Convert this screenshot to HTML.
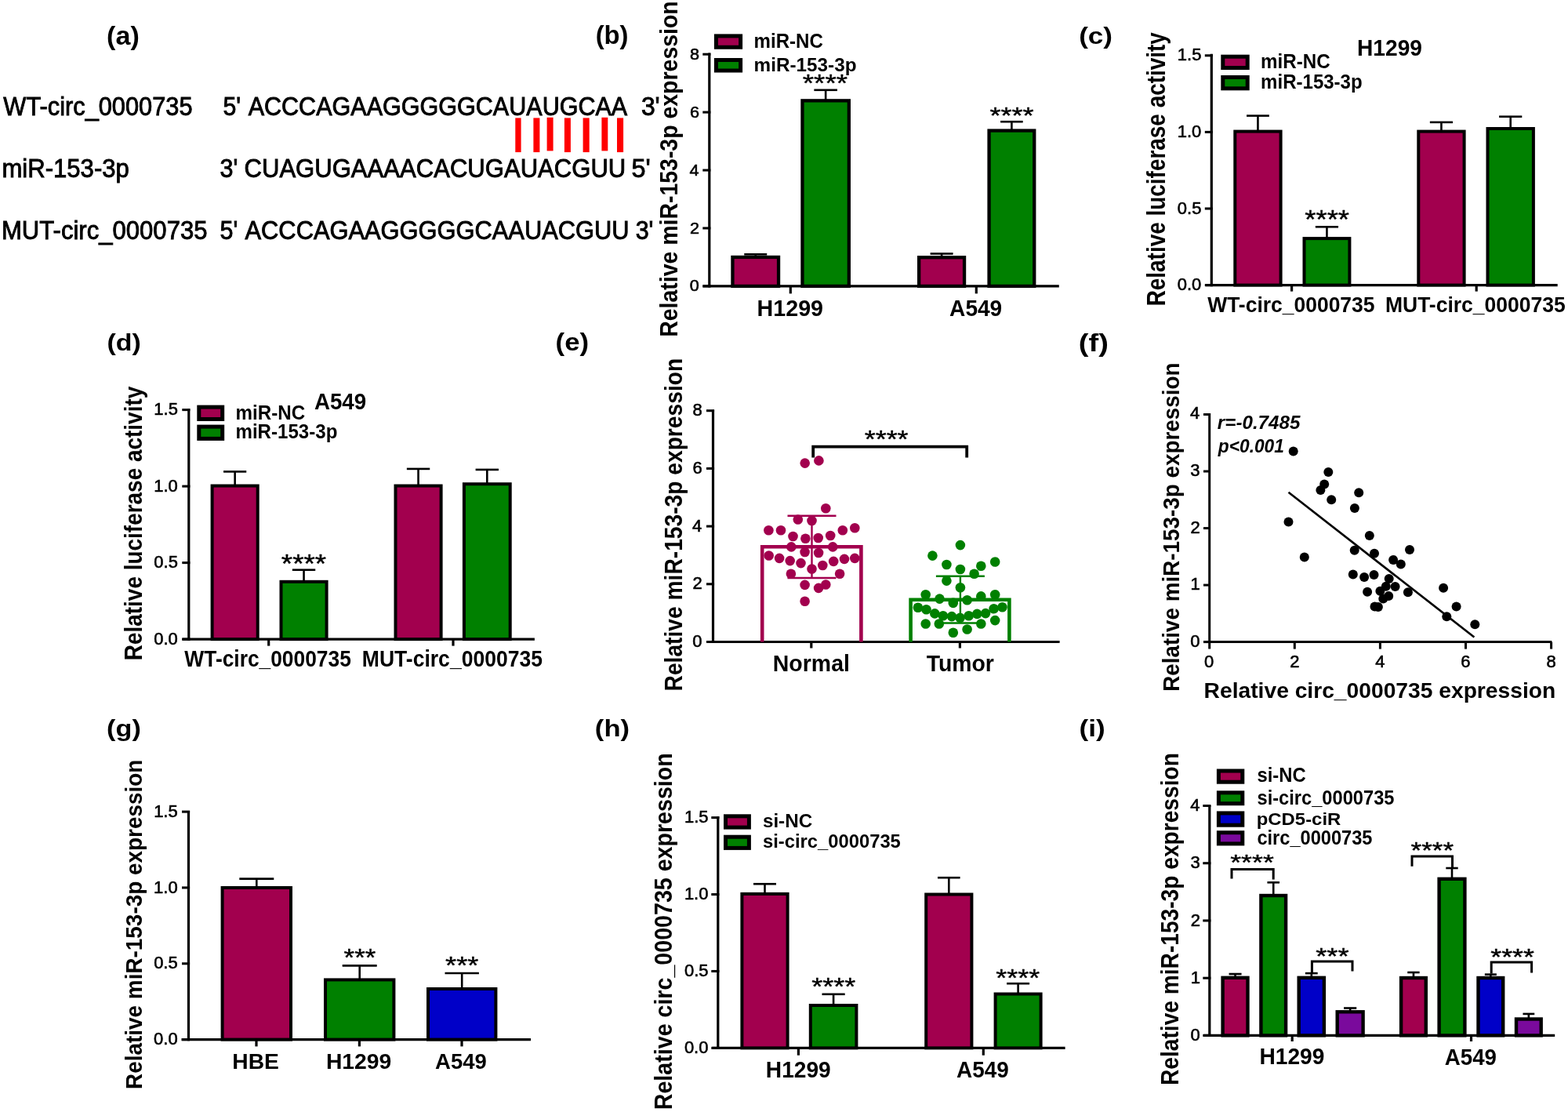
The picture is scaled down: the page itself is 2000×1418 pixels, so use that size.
<!DOCTYPE html>
<html><head><meta charset="utf-8"><title>Figure</title>
<style>html,body{margin:0;padding:0;background:#fff;}svg{display:block;}</style></head>
<body><svg width="2000" height="1418" viewBox="0 0 2000 1418" font-family="'Liberation Sans', Arial, sans-serif">
<rect width="2000" height="1418" fill="#fff"/>
<text x="136.10" y="56.54" font-size="32.62" font-weight="bold" fill="#000" textLength="41.70" lengthAdjust="spacingAndGlyphs">(a)</text>
<text x="759.67" y="56.32" font-size="33.15" font-weight="bold" fill="#000" textLength="41.87" lengthAdjust="spacingAndGlyphs">(b)</text>
<text x="1376.15" y="55.85" font-size="29.18" font-weight="bold" fill="#000" textLength="42.90" lengthAdjust="spacingAndGlyphs">(c)</text>
<text x="136.41" y="446.58" font-size="29.51" font-weight="bold" fill="#000" textLength="43.38" lengthAdjust="spacingAndGlyphs">(d)</text>
<text x="708.57" y="447.46" font-size="30.58" font-weight="bold" fill="#000" textLength="42.46" lengthAdjust="spacingAndGlyphs">(e)</text>
<text x="1375.80" y="447.77" font-size="31.01" font-weight="bold" fill="#000" textLength="38.10" lengthAdjust="spacingAndGlyphs">(f)</text>
<text x="136.10" y="938.62" font-size="30.26" font-weight="bold" fill="#000" textLength="43.71" lengthAdjust="spacingAndGlyphs">(g)</text>
<text x="758.88" y="938.62" font-size="30.26" font-weight="bold" fill="#000" textLength="44.14" lengthAdjust="spacingAndGlyphs">(h)</text>
<text x="1376.55" y="938.62" font-size="30.26" font-weight="bold" fill="#000" textLength="33.20" lengthAdjust="spacingAndGlyphs">(i)</text>
<text x="4.37" y="146.90" font-size="32.56" fill="#000" textLength="241.22" lengthAdjust="spacingAndGlyphs" stroke="#000" stroke-width="0.9">WT-circ_0000735</text>
<text x="284.39" y="146.90" font-size="32.56" fill="#000" textLength="22.64" lengthAdjust="spacingAndGlyphs" stroke="#000" stroke-width="0.9">5'</text>
<text x="316.64" y="146.90" font-size="32.56" fill="#000" textLength="483.62" lengthAdjust="spacingAndGlyphs" stroke="#000" stroke-width="0.9">ACCCAGAAGGGGGCAUAUGCAA</text>
<text x="817.89" y="146.90" font-size="32.56" fill="#000" textLength="23.82" lengthAdjust="spacingAndGlyphs" stroke="#000" stroke-width="0.9">3'</text>
<text x="2.44" y="225.90" font-size="32.99" fill="#000" textLength="162.37" lengthAdjust="spacingAndGlyphs" stroke="#000" stroke-width="0.9">miR-153-3p</text>
<text x="280.54" y="225.90" font-size="32.99" fill="#000" textLength="22.80" lengthAdjust="spacingAndGlyphs" stroke="#000" stroke-width="0.9">3'</text>
<text x="311.52" y="225.90" font-size="32.99" fill="#000" textLength="486.77" lengthAdjust="spacingAndGlyphs" stroke="#000" stroke-width="0.9">CUAGUGAAAACACUGAUACGUU</text>
<text x="805.40" y="225.90" font-size="32.99" fill="#000" textLength="24.23" lengthAdjust="spacingAndGlyphs" stroke="#000" stroke-width="0.9">5'</text>
<text x="1.97" y="304.60" font-size="32.85" fill="#000" textLength="262.53" lengthAdjust="spacingAndGlyphs" stroke="#000" stroke-width="0.9">MUT-circ_0000735</text>
<text x="280.48" y="304.60" font-size="32.85" fill="#000" textLength="22.75" lengthAdjust="spacingAndGlyphs" stroke="#000" stroke-width="0.9">5'</text>
<text x="312.54" y="304.60" font-size="32.85" fill="#000" textLength="490.04" lengthAdjust="spacingAndGlyphs" stroke="#000" stroke-width="0.9">ACCCAGAAGGGGGCAAUACGUU</text>
<text x="810.64" y="304.60" font-size="32.85" fill="#000" textLength="22.80" lengthAdjust="spacingAndGlyphs" stroke="#000" stroke-width="0.9">3'</text>
<rect x="657.3" y="150.4" width="7.30" height="43.70" fill="#ff0000"/>
<rect x="680.4" y="150.4" width="8.00" height="43.70" fill="#ff0000"/>
<rect x="697.6" y="149.8" width="8.00" height="42.60" fill="#ff0000"/>
<rect x="719.9" y="150.4" width="8.00" height="43.70" fill="#ff0000"/>
<rect x="743.6" y="150.4" width="8.10" height="43.70" fill="#ff0000"/>
<rect x="767.4" y="149.8" width="7.90" height="42.60" fill="#ff0000"/>
<rect x="787" y="150.4" width="8.10" height="43.70" fill="#ff0000"/>
<line x1="904.80" y1="67.40" x2="904.80" y2="366.50" stroke="#000" stroke-width="3.2" stroke-linecap="butt"/>
<line x1="896.30" y1="364.90" x2="906.40" y2="364.90" stroke="#000" stroke-width="3.04" stroke-linecap="butt"/>
<line x1="896.30" y1="290.97" x2="906.40" y2="290.97" stroke="#000" stroke-width="3.04" stroke-linecap="butt"/>
<line x1="896.30" y1="217.05" x2="906.40" y2="217.05" stroke="#000" stroke-width="3.04" stroke-linecap="butt"/>
<line x1="896.30" y1="143.12" x2="906.40" y2="143.12" stroke="#000" stroke-width="3.04" stroke-linecap="butt"/>
<line x1="896.30" y1="69.20" x2="906.40" y2="69.20" stroke="#000" stroke-width="3.04" stroke-linecap="butt"/>
<line x1="896.50" y1="364.90" x2="1350.80" y2="364.90" stroke="#000" stroke-width="3.2" stroke-linecap="butt"/>
<line x1="1008.30" y1="364.90" x2="1008.30" y2="374.40" stroke="#000" stroke-width="3.2" stroke-linecap="butt"/>
<line x1="1245.30" y1="364.90" x2="1245.30" y2="374.40" stroke="#000" stroke-width="3.2" stroke-linecap="butt"/>
<text x="879.82" y="371.43" font-size="21" textLength="12.03" lengthAdjust="spacingAndGlyphs" stroke="#000" stroke-width="0.6">0</text>
<text x="880.06" y="297.51" font-size="21" textLength="12.03" lengthAdjust="spacingAndGlyphs" stroke="#000" stroke-width="0.6">2</text>
<text x="879.60" y="223.58" font-size="21" textLength="12.03" lengthAdjust="spacingAndGlyphs" stroke="#000" stroke-width="0.6">4</text>
<text x="879.92" y="149.66" font-size="21" textLength="12.03" lengthAdjust="spacingAndGlyphs" stroke="#000" stroke-width="0.6">6</text>
<text x="879.91" y="75.73" font-size="21" textLength="12.03" lengthAdjust="spacingAndGlyphs" stroke="#000" stroke-width="0.6">8</text>
<line x1="963.75" y1="327.80" x2="963.75" y2="324.30" stroke="#000" stroke-width="2.6" stroke-linecap="butt"/>
<line x1="949.25" y1="324.30" x2="978.25" y2="324.30" stroke="#000" stroke-width="2.6" stroke-linecap="butt"/>
<rect x="934.45" y="327.95" width="58.60" height="36.95" fill="#a2004e" stroke="#000" stroke-width="4.3"/>
<line x1="1053.15" y1="128.20" x2="1053.15" y2="114.80" stroke="#000" stroke-width="2.6" stroke-linecap="butt"/>
<line x1="1038.35" y1="114.80" x2="1067.95" y2="114.80" stroke="#000" stroke-width="2.6" stroke-linecap="butt"/>
<rect x="1023.45" y="128.35" width="59.40" height="236.55" fill="#008000" stroke="#000" stroke-width="4.3"/>
<line x1="1201.10" y1="328.10" x2="1201.10" y2="323.50" stroke="#000" stroke-width="2.6" stroke-linecap="butt"/>
<line x1="1186.60" y1="323.50" x2="1215.60" y2="323.50" stroke="#000" stroke-width="2.6" stroke-linecap="butt"/>
<rect x="1172.15" y="328.25" width="57.90" height="36.65" fill="#a2004e" stroke="#000" stroke-width="4.3"/>
<line x1="1290.40" y1="166.40" x2="1290.40" y2="155.20" stroke="#000" stroke-width="2.6" stroke-linecap="butt"/>
<line x1="1276.10" y1="155.20" x2="1304.70" y2="155.20" stroke="#000" stroke-width="2.6" stroke-linecap="butt"/>
<rect x="1261.55" y="166.55" width="57.70" height="198.35" fill="#008000" stroke="#000" stroke-width="4.3"/>
<text x="1023.81" y="117.35" font-size="31.91" fill="#000" textLength="57.17" lengthAdjust="spacingAndGlyphs" stroke-linejoin="round" stroke="#000" stroke-width="0.4">****</text>
<text x="1262.52" y="156.68" font-size="28.72" fill="#000" textLength="56.14" lengthAdjust="spacingAndGlyphs" stroke-linejoin="round" stroke="#000" stroke-width="0.4">****</text>
<rect x="913.40" y="45.90" width="31.20" height="14.35" fill="#a2004e" stroke="#000" stroke-width="5"/>
<rect x="913.40" y="76.50" width="31.20" height="13.50" fill="#008000" stroke="#000" stroke-width="5"/>
<text x="961.61" y="60.60" font-size="24.85" font-weight="bold" fill="#000" textLength="88.24" lengthAdjust="spacingAndGlyphs">miR-NC</text>
<text x="961.60" y="90.70" font-size="24.71" font-weight="bold" fill="#000" textLength="130.90" lengthAdjust="spacingAndGlyphs">miR-153-3p</text>
<text x="965.58" y="403.40" font-size="30.09" font-weight="bold" fill="#000" textLength="84.48" lengthAdjust="spacingAndGlyphs">H1299</text>
<text x="1211.10" y="403.40" font-size="30.09" font-weight="bold" fill="#000" textLength="67.14" lengthAdjust="spacingAndGlyphs">A549</text>
<text transform="translate(864.20,427.90) rotate(-90)" x="-1.90" y="0" font-size="31.40" font-weight="bold" textLength="428.47" lengthAdjust="spacingAndGlyphs">Relative miR-153-3p expression</text>
<line x1="1545.30" y1="68.70" x2="1545.30" y2="365.20" stroke="#000" stroke-width="3.2" stroke-linecap="butt"/>
<line x1="1536.80" y1="363.60" x2="1546.90" y2="363.60" stroke="#000" stroke-width="3.04" stroke-linecap="butt"/>
<line x1="1536.80" y1="266.00" x2="1546.90" y2="266.00" stroke="#000" stroke-width="3.04" stroke-linecap="butt"/>
<line x1="1536.80" y1="168.40" x2="1546.90" y2="168.40" stroke="#000" stroke-width="3.04" stroke-linecap="butt"/>
<line x1="1536.80" y1="70.80" x2="1546.90" y2="70.80" stroke="#000" stroke-width="3.04" stroke-linecap="butt"/>
<line x1="1537.60" y1="363.60" x2="1986.70" y2="363.60" stroke="#000" stroke-width="3.2" stroke-linecap="butt"/>
<line x1="1647.60" y1="363.60" x2="1647.60" y2="371.60" stroke="#000" stroke-width="3.2" stroke-linecap="butt"/>
<line x1="1883.20" y1="363.60" x2="1883.20" y2="371.60" stroke="#000" stroke-width="3.2" stroke-linecap="butt"/>
<text x="1501.78" y="370.19" font-size="22" textLength="30.58" lengthAdjust="spacingAndGlyphs" stroke="#000" stroke-width="0.6">0.0</text>
<text x="1501.84" y="272.59" font-size="22" textLength="30.58" lengthAdjust="spacingAndGlyphs" stroke="#000" stroke-width="0.6">0.5</text>
<text x="1501.78" y="174.99" font-size="22" textLength="30.58" lengthAdjust="spacingAndGlyphs" stroke="#000" stroke-width="0.6">1.0</text>
<text x="1501.84" y="77.39" font-size="22" textLength="30.58" lengthAdjust="spacingAndGlyphs" stroke="#000" stroke-width="0.6">1.5</text>
<line x1="1604.45" y1="167.60" x2="1604.45" y2="147.60" stroke="#000" stroke-width="2.6" stroke-linecap="butt"/>
<line x1="1590.05" y1="147.60" x2="1618.85" y2="147.60" stroke="#000" stroke-width="2.6" stroke-linecap="butt"/>
<rect x="1575.30" y="167.60" width="58.30" height="196.00" fill="#a2004e" stroke="#000" stroke-width="4.0"/>
<line x1="1692.45" y1="304.10" x2="1692.45" y2="289.30" stroke="#000" stroke-width="2.6" stroke-linecap="butt"/>
<line x1="1677.85" y1="289.30" x2="1707.05" y2="289.30" stroke="#000" stroke-width="2.6" stroke-linecap="butt"/>
<rect x="1663.50" y="304.10" width="57.90" height="59.50" fill="#008000" stroke="#000" stroke-width="4.0"/>
<line x1="1838.45" y1="167.60" x2="1838.45" y2="155.90" stroke="#000" stroke-width="2.6" stroke-linecap="butt"/>
<line x1="1823.85" y1="155.90" x2="1853.05" y2="155.90" stroke="#000" stroke-width="2.6" stroke-linecap="butt"/>
<rect x="1809.30" y="167.60" width="58.30" height="196.00" fill="#a2004e" stroke="#000" stroke-width="4.0"/>
<line x1="1926.70" y1="164.00" x2="1926.70" y2="148.70" stroke="#000" stroke-width="2.6" stroke-linecap="butt"/>
<line x1="1912.10" y1="148.70" x2="1941.30" y2="148.70" stroke="#000" stroke-width="2.6" stroke-linecap="butt"/>
<rect x="1897.50" y="164.00" width="58.40" height="199.60" fill="#008000" stroke="#000" stroke-width="4.0"/>
<text x="1664.21" y="291.21" font-size="34.14" fill="#000" textLength="56.86" lengthAdjust="spacingAndGlyphs" stroke-linejoin="round" stroke="#000" stroke-width="0.4">****</text>
<rect x="1559.80" y="72.20" width="31.40" height="14.30" fill="#a2004e" stroke="#000" stroke-width="5"/>
<rect x="1559.80" y="98.50" width="31.40" height="14.30" fill="#008000" stroke="#000" stroke-width="5"/>
<text x="1608.11" y="86.60" font-size="25.87" font-weight="bold" fill="#000" textLength="88.66" lengthAdjust="spacingAndGlyphs">miR-NC</text>
<text x="1608.12" y="113.20" font-size="25.87" font-weight="bold" fill="#000" textLength="129.57" lengthAdjust="spacingAndGlyphs">miR-153-3p</text>
<text x="1731.02" y="70.50" font-size="28.92" font-weight="bold" fill="#000" textLength="83.03" lengthAdjust="spacingAndGlyphs">H1299</text>
<text x="1540.17" y="398.20" font-size="28.34" font-weight="bold" fill="#000" textLength="213.36" lengthAdjust="spacingAndGlyphs">WT-circ_0000735</text>
<text x="1766.94" y="398.20" font-size="28.34" font-weight="bold" fill="#000" textLength="229.79" lengthAdjust="spacingAndGlyphs">MUT-circ_0000735</text>
<text transform="translate(1486.10,388.50) rotate(-90)" x="-1.87" y="0" font-size="32.30" font-weight="bold" textLength="349.22" lengthAdjust="spacingAndGlyphs">Relative luciferase activity</text>
<line x1="240.80" y1="521.10" x2="240.80" y2="816.70" stroke="#000" stroke-width="3.2" stroke-linecap="butt"/>
<line x1="232.30" y1="815.10" x2="242.40" y2="815.10" stroke="#000" stroke-width="3.04" stroke-linecap="butt"/>
<line x1="232.30" y1="717.60" x2="242.40" y2="717.60" stroke="#000" stroke-width="3.04" stroke-linecap="butt"/>
<line x1="232.30" y1="620.10" x2="242.40" y2="620.10" stroke="#000" stroke-width="3.04" stroke-linecap="butt"/>
<line x1="232.30" y1="522.60" x2="242.40" y2="522.60" stroke="#000" stroke-width="3.04" stroke-linecap="butt"/>
<line x1="232.40" y1="815.10" x2="681.90" y2="815.10" stroke="#000" stroke-width="3.2" stroke-linecap="butt"/>
<line x1="342.70" y1="815.10" x2="342.70" y2="823.60" stroke="#000" stroke-width="3.2" stroke-linecap="butt"/>
<line x1="578.00" y1="815.10" x2="578.00" y2="823.60" stroke="#000" stroke-width="3.2" stroke-linecap="butt"/>
<text x="196.28" y="821.69" font-size="22" textLength="30.58" lengthAdjust="spacingAndGlyphs" stroke="#000" stroke-width="0.6">0.0</text>
<text x="196.34" y="724.19" font-size="22" textLength="30.58" lengthAdjust="spacingAndGlyphs" stroke="#000" stroke-width="0.6">0.5</text>
<text x="196.28" y="626.69" font-size="22" textLength="30.58" lengthAdjust="spacingAndGlyphs" stroke="#000" stroke-width="0.6">1.0</text>
<text x="196.34" y="529.19" font-size="22" textLength="30.58" lengthAdjust="spacingAndGlyphs" stroke="#000" stroke-width="0.6">1.5</text>
<line x1="299.65" y1="619.50" x2="299.65" y2="601.40" stroke="#000" stroke-width="2.6" stroke-linecap="butt"/>
<line x1="285.05" y1="601.40" x2="314.25" y2="601.40" stroke="#000" stroke-width="2.6" stroke-linecap="butt"/>
<rect x="270.60" y="619.50" width="58.10" height="195.60" fill="#a2004e" stroke="#000" stroke-width="4.0"/>
<line x1="387.55" y1="741.80" x2="387.55" y2="726.70" stroke="#000" stroke-width="2.6" stroke-linecap="butt"/>
<line x1="372.85" y1="726.70" x2="402.25" y2="726.70" stroke="#000" stroke-width="2.6" stroke-linecap="butt"/>
<rect x="358.50" y="741.80" width="58.10" height="73.30" fill="#008000" stroke="#000" stroke-width="4.0"/>
<line x1="533.55" y1="619.50" x2="533.55" y2="597.90" stroke="#000" stroke-width="2.6" stroke-linecap="butt"/>
<line x1="518.85" y1="597.90" x2="548.25" y2="597.90" stroke="#000" stroke-width="2.6" stroke-linecap="butt"/>
<rect x="504.50" y="619.50" width="58.10" height="195.60" fill="#a2004e" stroke="#000" stroke-width="4.0"/>
<line x1="621.30" y1="617.20" x2="621.30" y2="598.90" stroke="#000" stroke-width="2.6" stroke-linecap="butt"/>
<line x1="606.60" y1="598.90" x2="636.00" y2="598.90" stroke="#000" stroke-width="2.6" stroke-linecap="butt"/>
<rect x="591.90" y="617.20" width="58.80" height="197.90" fill="#008000" stroke="#000" stroke-width="4.0"/>
<text x="358.81" y="729.60" font-size="33.82" fill="#000" textLength="57.37" lengthAdjust="spacingAndGlyphs" stroke-linejoin="round" stroke="#000" stroke-width="0.4">****</text>
<rect x="253.80" y="519.10" width="29.90" height="15.40" fill="#a2004e" stroke="#000" stroke-width="5"/>
<rect x="253.80" y="544.10" width="29.90" height="15.30" fill="#008000" stroke="#000" stroke-width="5"/>
<text x="300.51" y="534.50" font-size="25.58" font-weight="bold" fill="#000" textLength="88.66" lengthAdjust="spacingAndGlyphs">miR-NC</text>
<text x="300.51" y="559.20" font-size="25.00" font-weight="bold" fill="#000" textLength="129.88" lengthAdjust="spacingAndGlyphs">miR-153-3p</text>
<text x="400.91" y="521.80" font-size="29.65" font-weight="bold" fill="#000" textLength="66.32" lengthAdjust="spacingAndGlyphs">A549</text>
<text x="235.37" y="850.30" font-size="28.78" font-weight="bold" fill="#000" textLength="212.45" lengthAdjust="spacingAndGlyphs">WT-circ_0000735</text>
<text x="461.84" y="850.30" font-size="28.78" font-weight="bold" fill="#000" textLength="230.10" lengthAdjust="spacingAndGlyphs">MUT-circ_0000735</text>
<text transform="translate(180.70,840.40) rotate(-90)" x="-1.87" y="0" font-size="31.80" font-weight="bold" textLength="349.52" lengthAdjust="spacingAndGlyphs">Relative luciferase activity</text>
<line x1="909.50" y1="522.80" x2="909.50" y2="820.10" stroke="#000" stroke-width="3.2" stroke-linecap="butt"/>
<line x1="901.00" y1="818.50" x2="911.10" y2="818.50" stroke="#000" stroke-width="3.04" stroke-linecap="butt"/>
<line x1="901.00" y1="744.80" x2="911.10" y2="744.80" stroke="#000" stroke-width="3.04" stroke-linecap="butt"/>
<line x1="901.00" y1="671.10" x2="911.10" y2="671.10" stroke="#000" stroke-width="3.04" stroke-linecap="butt"/>
<line x1="901.00" y1="597.40" x2="911.10" y2="597.40" stroke="#000" stroke-width="3.04" stroke-linecap="butt"/>
<line x1="901.00" y1="523.70" x2="911.10" y2="523.70" stroke="#000" stroke-width="3.04" stroke-linecap="butt"/>
<line x1="901.00" y1="818.50" x2="1351.60" y2="818.50" stroke="#000" stroke-width="3.2" stroke-linecap="butt"/>
<line x1="1034.80" y1="818.50" x2="1034.80" y2="826.50" stroke="#000" stroke-width="3.2" stroke-linecap="butt"/>
<line x1="1224.40" y1="818.50" x2="1224.40" y2="826.50" stroke="#000" stroke-width="3.2" stroke-linecap="butt"/>
<text x="883.32" y="825.09" font-size="22" textLength="12.24" lengthAdjust="spacingAndGlyphs" stroke="#000" stroke-width="0.6">0</text>
<text x="883.57" y="751.39" font-size="22" textLength="12.24" lengthAdjust="spacingAndGlyphs" stroke="#000" stroke-width="0.6">2</text>
<text x="883.11" y="677.69" font-size="22" textLength="12.24" lengthAdjust="spacingAndGlyphs" stroke="#000" stroke-width="0.6">4</text>
<text x="883.43" y="603.99" font-size="22" textLength="12.24" lengthAdjust="spacingAndGlyphs" stroke="#000" stroke-width="0.6">6</text>
<text x="883.42" y="530.29" font-size="22" textLength="12.24" lengthAdjust="spacingAndGlyphs" stroke="#000" stroke-width="0.6">8</text>
<polyline points="972.2,818.5 972.2,697.2 1098.4,697.2 1098.4,818.5" fill="none" stroke="#a2004e" stroke-width="4.6" stroke-linejoin="miter"/>
<polyline points="1161.6,818.5 1161.6,764.8 1287.4,764.8 1287.4,818.5" fill="none" stroke="#008000" stroke-width="4.6" stroke-linejoin="miter"/>
<circle cx="1026.7" cy="590.6" r="6.3" fill="#a2004e"/>
<circle cx="1044.4" cy="587.4" r="6.3" fill="#a2004e"/>
<circle cx="1053.3" cy="648.2" r="6.3" fill="#a2004e"/>
<circle cx="1017.8" cy="662.5" r="6.3" fill="#a2004e"/>
<circle cx="1035.5" cy="664.0" r="6.3" fill="#a2004e"/>
<circle cx="980.4" cy="676.3" r="6.3" fill="#a2004e"/>
<circle cx="996.0" cy="676.3" r="6.3" fill="#a2004e"/>
<circle cx="1011.5" cy="684.0" r="6.3" fill="#a2004e"/>
<circle cx="1027.4" cy="686.7" r="6.3" fill="#a2004e"/>
<circle cx="1043.7" cy="686.0" r="6.3" fill="#a2004e"/>
<circle cx="1059.2" cy="683.0" r="6.3" fill="#a2004e"/>
<circle cx="1074.8" cy="676.3" r="6.3" fill="#a2004e"/>
<circle cx="1090.3" cy="673.2" r="6.3" fill="#a2004e"/>
<circle cx="1009.3" cy="697.4" r="6.3" fill="#a2004e"/>
<circle cx="1062.2" cy="697.4" r="6.3" fill="#a2004e"/>
<circle cx="980.7" cy="708.5" r="6.3" fill="#a2004e"/>
<circle cx="994.1" cy="711.9" r="6.3" fill="#a2004e"/>
<circle cx="1026.6" cy="704.0" r="6.3" fill="#a2004e"/>
<circle cx="1044.1" cy="705.0" r="6.3" fill="#a2004e"/>
<circle cx="1007.7" cy="715.1" r="6.3" fill="#a2004e"/>
<circle cx="1021.5" cy="718.1" r="6.3" fill="#a2004e"/>
<circle cx="1049.3" cy="721.0" r="6.3" fill="#a2004e"/>
<circle cx="1063.2" cy="715.9" r="6.3" fill="#a2004e"/>
<circle cx="1077.0" cy="712.9" r="6.3" fill="#a2004e"/>
<circle cx="1090.3" cy="711.9" r="6.3" fill="#a2004e"/>
<circle cx="1035.5" cy="725.5" r="6.3" fill="#a2004e"/>
<circle cx="1008.9" cy="731.7" r="6.3" fill="#a2004e"/>
<circle cx="1071.1" cy="731.7" r="6.3" fill="#a2004e"/>
<circle cx="1026.6" cy="745.9" r="6.3" fill="#a2004e"/>
<circle cx="1053.3" cy="745.5" r="6.3" fill="#a2004e"/>
<circle cx="1044.1" cy="749.9" r="6.3" fill="#a2004e"/>
<circle cx="1026.6" cy="766.7" r="6.3" fill="#a2004e"/>
<line x1="1035.50" y1="657.70" x2="1035.50" y2="737.00" stroke="#a2004e" stroke-width="2.4" stroke-linecap="butt"/>
<line x1="1004.50" y1="657.70" x2="1066.50" y2="657.70" stroke="#a2004e" stroke-width="2.4" stroke-linecap="butt"/>
<line x1="1004.50" y1="737.00" x2="1066.50" y2="737.00" stroke="#a2004e" stroke-width="2.4" stroke-linecap="butt"/>
<circle cx="1224.9" cy="695.1" r="6.3" fill="#008000"/>
<circle cx="1189.4" cy="708.6" r="6.3" fill="#008000"/>
<circle cx="1207.4" cy="720.0" r="6.3" fill="#008000"/>
<circle cx="1224.9" cy="726.0" r="6.3" fill="#008000"/>
<circle cx="1251.3" cy="721.8" r="6.3" fill="#008000"/>
<circle cx="1269.2" cy="716.5" r="6.3" fill="#008000"/>
<circle cx="1242.6" cy="731.8" r="6.3" fill="#008000"/>
<circle cx="1207.4" cy="740.6" r="6.3" fill="#008000"/>
<circle cx="1224.9" cy="749.3" r="6.3" fill="#008000"/>
<circle cx="1180.7" cy="758.3" r="6.3" fill="#008000"/>
<circle cx="1198.5" cy="763.6" r="6.3" fill="#008000"/>
<circle cx="1215.8" cy="768.9" r="6.3" fill="#008000"/>
<circle cx="1233.6" cy="765.2" r="6.3" fill="#008000"/>
<circle cx="1251.3" cy="760.4" r="6.3" fill="#008000"/>
<circle cx="1269.2" cy="758.3" r="6.3" fill="#008000"/>
<circle cx="1170.9" cy="774.7" r="6.3" fill="#008000"/>
<circle cx="1181.5" cy="777.3" r="6.3" fill="#008000"/>
<circle cx="1192.3" cy="782.4" r="6.3" fill="#008000"/>
<circle cx="1202.9" cy="785.3" r="6.3" fill="#008000"/>
<circle cx="1214.0" cy="786.1" r="6.3" fill="#008000"/>
<circle cx="1224.6" cy="787.9" r="6.3" fill="#008000"/>
<circle cx="1235.7" cy="785.3" r="6.3" fill="#008000"/>
<circle cx="1246.3" cy="782.9" r="6.3" fill="#008000"/>
<circle cx="1257.1" cy="782.1" r="6.3" fill="#008000"/>
<circle cx="1267.6" cy="776.3" r="6.3" fill="#008000"/>
<circle cx="1278.5" cy="774.2" r="6.3" fill="#008000"/>
<circle cx="1180.7" cy="795.5" r="6.3" fill="#008000"/>
<circle cx="1197.8" cy="795.5" r="6.3" fill="#008000"/>
<circle cx="1251.3" cy="795.5" r="6.3" fill="#008000"/>
<circle cx="1269.2" cy="791.1" r="6.3" fill="#008000"/>
<circle cx="1215.8" cy="806.7" r="6.3" fill="#008000"/>
<circle cx="1233.6" cy="802.5" r="6.3" fill="#008000"/>
<line x1="1224.90" y1="734.80" x2="1224.90" y2="794.50" stroke="#008000" stroke-width="2.4" stroke-linecap="butt"/>
<line x1="1193.90" y1="734.80" x2="1255.90" y2="734.80" stroke="#008000" stroke-width="2.4" stroke-linecap="butt"/>
<line x1="1193.90" y1="794.50" x2="1255.90" y2="794.50" stroke="#008000" stroke-width="2.4" stroke-linecap="butt"/>
<polyline points="1037.20,583.50 1037.20,569.60 1233.20,569.60 1233.20,583.50" fill="none" stroke="#000" stroke-width="3.8" stroke-linejoin="miter"/>
<text x="1102.82" y="570.53" font-size="30.95" fill="#000" textLength="55.74" lengthAdjust="spacingAndGlyphs" stroke-linejoin="round" stroke="#000" stroke-width="0.4">****</text>
<text x="985.79" y="855.70" font-size="30.09" font-weight="bold" fill="#000" textLength="98.12" lengthAdjust="spacingAndGlyphs">Normal</text>
<text x="1181.79" y="855.70" font-size="30.09" font-weight="bold" fill="#000" textLength="86.13" lengthAdjust="spacingAndGlyphs">Tumor</text>
<text transform="translate(869.50,879.60) rotate(-90)" x="-1.89" y="0" font-size="32.00" font-weight="bold" textLength="424.63" lengthAdjust="spacingAndGlyphs">Relative miR-153-3p expression</text>
<line x1="1542.70" y1="527.00" x2="1542.70" y2="827.60" stroke="#000" stroke-width="3" stroke-linecap="butt"/>
<line x1="1535.00" y1="818.60" x2="1542.70" y2="818.60" stroke="#000" stroke-width="3" stroke-linecap="butt"/>
<line x1="1535.00" y1="746.08" x2="1542.70" y2="746.08" stroke="#000" stroke-width="3" stroke-linecap="butt"/>
<line x1="1535.00" y1="673.55" x2="1542.70" y2="673.55" stroke="#000" stroke-width="3" stroke-linecap="butt"/>
<line x1="1535.00" y1="601.02" x2="1542.70" y2="601.02" stroke="#000" stroke-width="3" stroke-linecap="butt"/>
<line x1="1535.00" y1="528.50" x2="1542.70" y2="528.50" stroke="#000" stroke-width="3" stroke-linecap="butt"/>
<line x1="1535.10" y1="818.60" x2="1979.30" y2="818.60" stroke="#000" stroke-width="3" stroke-linecap="butt"/>
<line x1="1651.30" y1="818.60" x2="1651.30" y2="827.60" stroke="#000" stroke-width="3" stroke-linecap="butt"/>
<line x1="1760.40" y1="818.60" x2="1760.40" y2="827.60" stroke="#000" stroke-width="3" stroke-linecap="butt"/>
<line x1="1869.50" y1="818.60" x2="1869.50" y2="827.60" stroke="#000" stroke-width="3" stroke-linecap="butt"/>
<line x1="1978.60" y1="818.60" x2="1978.60" y2="827.60" stroke="#000" stroke-width="3" stroke-linecap="butt"/>
<text x="1518.22" y="824.59" font-size="22" textLength="12.24" lengthAdjust="spacingAndGlyphs" stroke="#000" stroke-width="0.6">0</text>
<text x="1518.44" y="752.06" font-size="22" textLength="12.24" lengthAdjust="spacingAndGlyphs" stroke="#000" stroke-width="0.6">1</text>
<text x="1518.47" y="679.54" font-size="22" textLength="12.24" lengthAdjust="spacingAndGlyphs" stroke="#000" stroke-width="0.6">2</text>
<text x="1518.33" y="607.01" font-size="22" textLength="12.24" lengthAdjust="spacingAndGlyphs" stroke="#000" stroke-width="0.6">3</text>
<text x="1518.01" y="534.49" font-size="22" textLength="12.24" lengthAdjust="spacingAndGlyphs" stroke="#000" stroke-width="0.6">4</text>
<text x="1536.08" y="851.30" font-size="22" textLength="12.24" lengthAdjust="spacingAndGlyphs" stroke="#000" stroke-width="0.6">0</text>
<text x="1645.18" y="851.30" font-size="22" textLength="12.24" lengthAdjust="spacingAndGlyphs" stroke="#000" stroke-width="0.6">2</text>
<text x="1754.35" y="851.30" font-size="22" textLength="12.24" lengthAdjust="spacingAndGlyphs" stroke="#000" stroke-width="0.6">4</text>
<text x="1863.31" y="851.30" font-size="22" textLength="12.24" lengthAdjust="spacingAndGlyphs" stroke="#000" stroke-width="0.6">6</text>
<text x="1972.48" y="851.30" font-size="22" textLength="12.24" lengthAdjust="spacingAndGlyphs" stroke="#000" stroke-width="0.6">8</text>
<text x="1552.89" y="547.00" font-size="23.50" font-weight="bold" font-style="italic" fill="#000" textLength="105.53" lengthAdjust="spacingAndGlyphs">r=-0.7485</text>
<text x="1553.80" y="577.00" font-size="23.50" font-weight="bold" font-style="italic" fill="#000" textLength="84.12" lengthAdjust="spacingAndGlyphs">p&lt;0.001</text>
<line x1="1643.50" y1="627.70" x2="1880.40" y2="812.50" stroke="#000" stroke-width="2.7" stroke-linecap="butt"/>
<circle cx="1649.7" cy="575.6" r="6.0" fill="#000"/>
<circle cx="1694.3" cy="602.1" r="6.0" fill="#000"/>
<circle cx="1689.2" cy="617.5" r="6.0" fill="#000"/>
<circle cx="1684.4" cy="624.9" r="6.0" fill="#000"/>
<circle cx="1698.2" cy="637.3" r="6.0" fill="#000"/>
<circle cx="1733.2" cy="628.2" r="6.0" fill="#000"/>
<circle cx="1727.9" cy="648.0" r="6.0" fill="#000"/>
<circle cx="1643.5" cy="665.5" r="6.0" fill="#000"/>
<circle cx="1746.8" cy="683.0" r="6.0" fill="#000"/>
<circle cx="1727.7" cy="701.8" r="6.0" fill="#000"/>
<circle cx="1753.0" cy="705.7" r="6.0" fill="#000"/>
<circle cx="1663.8" cy="710.6" r="6.0" fill="#000"/>
<circle cx="1798.0" cy="701.0" r="6.0" fill="#000"/>
<circle cx="1777.1" cy="714.0" r="6.0" fill="#000"/>
<circle cx="1786.8" cy="719.5" r="6.0" fill="#000"/>
<circle cx="1725.8" cy="732.5" r="6.0" fill="#000"/>
<circle cx="1740.1" cy="735.9" r="6.0" fill="#000"/>
<circle cx="1752.5" cy="733.0" r="6.0" fill="#000"/>
<circle cx="1771.7" cy="737.9" r="6.0" fill="#000"/>
<circle cx="1767.8" cy="747.8" r="6.0" fill="#000"/>
<circle cx="1779.6" cy="748.1" r="6.0" fill="#000"/>
<circle cx="1744.1" cy="754.7" r="6.0" fill="#000"/>
<circle cx="1760.4" cy="753.7" r="6.0" fill="#000"/>
<circle cx="1795.9" cy="755.2" r="6.0" fill="#000"/>
<circle cx="1771.2" cy="760.1" r="6.0" fill="#000"/>
<circle cx="1764.3" cy="763.6" r="6.0" fill="#000"/>
<circle cx="1753.5" cy="773.4" r="6.0" fill="#000"/>
<circle cx="1757.9" cy="773.9" r="6.0" fill="#000"/>
<circle cx="1841.1" cy="749.7" r="6.0" fill="#000"/>
<circle cx="1857.6" cy="773.4" r="6.0" fill="#000"/>
<circle cx="1845.3" cy="786.3" r="6.0" fill="#000"/>
<circle cx="1881.3" cy="796.2" r="6.0" fill="#000"/>
<text x="1535.61" y="890.00" font-size="28.20" font-weight="bold" fill="#000" textLength="448.64" lengthAdjust="spacingAndGlyphs">Relative circ_0000735 expression</text>
<text transform="translate(1504.20,880.00) rotate(-90)" x="-1.86" y="0" font-size="29.80" font-weight="bold" textLength="419.29" lengthAdjust="spacingAndGlyphs">Relative miR-153-3p expression</text>
<line x1="240.50" y1="1033.90" x2="240.50" y2="1327.20" stroke="#000" stroke-width="3.2" stroke-linecap="butt"/>
<line x1="232.00" y1="1325.60" x2="242.10" y2="1325.60" stroke="#000" stroke-width="3.04" stroke-linecap="butt"/>
<line x1="232.00" y1="1228.77" x2="242.10" y2="1228.77" stroke="#000" stroke-width="3.04" stroke-linecap="butt"/>
<line x1="232.00" y1="1131.93" x2="242.10" y2="1131.93" stroke="#000" stroke-width="3.04" stroke-linecap="butt"/>
<line x1="232.00" y1="1035.10" x2="242.10" y2="1035.10" stroke="#000" stroke-width="3.04" stroke-linecap="butt"/>
<line x1="231.50" y1="1325.60" x2="677.00" y2="1325.60" stroke="#000" stroke-width="3.2" stroke-linecap="butt"/>
<line x1="327.00" y1="1325.60" x2="327.00" y2="1334.40" stroke="#000" stroke-width="3.2" stroke-linecap="butt"/>
<line x1="458.40" y1="1325.60" x2="458.40" y2="1334.40" stroke="#000" stroke-width="3.2" stroke-linecap="butt"/>
<line x1="589.00" y1="1325.60" x2="589.00" y2="1334.40" stroke="#000" stroke-width="3.2" stroke-linecap="butt"/>
<text x="196.08" y="1332.19" font-size="22" textLength="30.58" lengthAdjust="spacingAndGlyphs" stroke="#000" stroke-width="0.6">0.0</text>
<text x="196.14" y="1235.35" font-size="22" textLength="30.58" lengthAdjust="spacingAndGlyphs" stroke="#000" stroke-width="0.6">0.5</text>
<text x="196.08" y="1138.52" font-size="22" textLength="30.58" lengthAdjust="spacingAndGlyphs" stroke="#000" stroke-width="0.6">1.0</text>
<text x="196.14" y="1041.69" font-size="22" textLength="30.58" lengthAdjust="spacingAndGlyphs" stroke="#000" stroke-width="0.6">1.5</text>
<line x1="327.30" y1="1132.00" x2="327.30" y2="1120.60" stroke="#000" stroke-width="2.6" stroke-linecap="butt"/>
<line x1="305.30" y1="1120.60" x2="349.30" y2="1120.60" stroke="#000" stroke-width="2.6" stroke-linecap="butt"/>
<rect x="283.60" y="1132.00" width="87.40" height="193.60" fill="#a2004e" stroke="#000" stroke-width="4.0"/>
<line x1="458.70" y1="1249.40" x2="458.70" y2="1231.40" stroke="#000" stroke-width="2.6" stroke-linecap="butt"/>
<line x1="436.70" y1="1231.40" x2="480.70" y2="1231.40" stroke="#000" stroke-width="2.6" stroke-linecap="butt"/>
<rect x="415.00" y="1249.40" width="87.40" height="76.20" fill="#008000" stroke="#000" stroke-width="4.0"/>
<line x1="589.20" y1="1261.00" x2="589.20" y2="1241.00" stroke="#000" stroke-width="2.6" stroke-linecap="butt"/>
<line x1="567.50" y1="1241.00" x2="610.90" y2="1241.00" stroke="#000" stroke-width="2.6" stroke-linecap="butt"/>
<rect x="546.00" y="1261.00" width="86.40" height="64.60" fill="#0000c8" stroke="#000" stroke-width="4.0"/>
<text x="438.64" y="1231.94" font-size="31.27" fill="#000" textLength="40.71" lengthAdjust="spacingAndGlyphs" stroke-linejoin="round" stroke="#000" stroke-width="0.4">***</text>
<text x="568.02" y="1242.34" font-size="31.27" fill="#000" textLength="42.35" lengthAdjust="spacingAndGlyphs" stroke-linejoin="round" stroke="#000" stroke-width="0.4">***</text>
<text x="296.31" y="1362.80" font-size="27.76" font-weight="bold" fill="#000" textLength="59.59" lengthAdjust="spacingAndGlyphs">HBE</text>
<text x="415.91" y="1362.80" font-size="27.76" font-weight="bold" fill="#000" textLength="83.34" lengthAdjust="spacingAndGlyphs">H1299</text>
<text x="555.12" y="1362.80" font-size="27.76" font-weight="bold" fill="#000" textLength="65.70" lengthAdjust="spacingAndGlyphs">A549</text>
<text transform="translate(181.10,1387.10) rotate(-90)" x="-1.87" y="0" font-size="30.00" font-weight="bold" textLength="420.30" lengthAdjust="spacingAndGlyphs">Relative miR-153-3p expression</text>
<line x1="915.80" y1="1040.90" x2="915.80" y2="1338.00" stroke="#000" stroke-width="3.2" stroke-linecap="butt"/>
<line x1="907.30" y1="1336.40" x2="917.40" y2="1336.40" stroke="#000" stroke-width="3.04" stroke-linecap="butt"/>
<line x1="907.30" y1="1238.47" x2="917.40" y2="1238.47" stroke="#000" stroke-width="3.04" stroke-linecap="butt"/>
<line x1="907.30" y1="1140.53" x2="917.40" y2="1140.53" stroke="#000" stroke-width="3.04" stroke-linecap="butt"/>
<line x1="907.30" y1="1042.60" x2="917.40" y2="1042.60" stroke="#000" stroke-width="3.04" stroke-linecap="butt"/>
<line x1="908.20" y1="1336.40" x2="1358.60" y2="1336.40" stroke="#000" stroke-width="3.2" stroke-linecap="butt"/>
<line x1="1018.40" y1="1336.40" x2="1018.40" y2="1345.70" stroke="#000" stroke-width="3.2" stroke-linecap="butt"/>
<line x1="1254.30" y1="1336.40" x2="1254.30" y2="1345.70" stroke="#000" stroke-width="3.2" stroke-linecap="butt"/>
<text x="872.88" y="1342.99" font-size="22" textLength="30.58" lengthAdjust="spacingAndGlyphs" stroke="#000" stroke-width="0.6">0.0</text>
<text x="872.94" y="1245.05" font-size="22" textLength="30.58" lengthAdjust="spacingAndGlyphs" stroke="#000" stroke-width="0.6">0.5</text>
<text x="872.88" y="1147.12" font-size="22" textLength="30.58" lengthAdjust="spacingAndGlyphs" stroke="#000" stroke-width="0.6">1.0</text>
<text x="872.94" y="1049.19" font-size="22" textLength="30.58" lengthAdjust="spacingAndGlyphs" stroke="#000" stroke-width="0.6">1.5</text>
<line x1="975.50" y1="1139.90" x2="975.50" y2="1127.20" stroke="#000" stroke-width="2.6" stroke-linecap="butt"/>
<line x1="961.00" y1="1127.20" x2="990.00" y2="1127.20" stroke="#000" stroke-width="2.6" stroke-linecap="butt"/>
<rect x="946.40" y="1139.90" width="58.20" height="196.50" fill="#a2004e" stroke="#000" stroke-width="4.0"/>
<line x1="1063.10" y1="1282.00" x2="1063.10" y2="1267.80" stroke="#000" stroke-width="2.6" stroke-linecap="butt"/>
<line x1="1048.50" y1="1267.80" x2="1077.70" y2="1267.80" stroke="#000" stroke-width="2.6" stroke-linecap="butt"/>
<rect x="1033.80" y="1282.00" width="58.60" height="54.40" fill="#008000" stroke="#000" stroke-width="4.0"/>
<line x1="1210.30" y1="1140.50" x2="1210.30" y2="1119.20" stroke="#000" stroke-width="2.6" stroke-linecap="butt"/>
<line x1="1196.00" y1="1119.20" x2="1224.60" y2="1119.20" stroke="#000" stroke-width="2.6" stroke-linecap="butt"/>
<rect x="1181.20" y="1140.50" width="58.20" height="195.90" fill="#a2004e" stroke="#000" stroke-width="4.0"/>
<line x1="1298.60" y1="1267.50" x2="1298.60" y2="1254.20" stroke="#000" stroke-width="2.6" stroke-linecap="butt"/>
<line x1="1284.10" y1="1254.20" x2="1313.10" y2="1254.20" stroke="#000" stroke-width="2.6" stroke-linecap="butt"/>
<rect x="1269.60" y="1267.50" width="58.00" height="68.90" fill="#008000" stroke="#000" stroke-width="4.0"/>
<text x="1035.22" y="1268.73" font-size="30.95" fill="#000" textLength="56.14" lengthAdjust="spacingAndGlyphs" stroke-linejoin="round" stroke="#000" stroke-width="0.4">****</text>
<text x="1270.22" y="1257.76" font-size="32.23" fill="#000" textLength="56.04" lengthAdjust="spacingAndGlyphs" stroke-linejoin="round" stroke="#000" stroke-width="0.4">****</text>
<rect x="925.50" y="1040.80" width="29.90" height="14.30" fill="#a2004e" stroke="#000" stroke-width="5"/>
<rect x="925.50" y="1067.20" width="29.90" height="14.20" fill="#008000" stroke="#000" stroke-width="5"/>
<text x="972.95" y="1054.90" font-size="24.42" font-weight="bold" fill="#000" textLength="63.21" lengthAdjust="spacingAndGlyphs">si-NC</text>
<text x="972.96" y="1080.60" font-size="24.56" font-weight="bold" fill="#000" textLength="175.90" lengthAdjust="spacingAndGlyphs">si-circ_0000735</text>
<text x="976.82" y="1373.70" font-size="29.07" font-weight="bold" fill="#000" textLength="82.93" lengthAdjust="spacingAndGlyphs">H1299</text>
<text x="1220.10" y="1373.60" font-size="28.63" font-weight="bold" fill="#000" textLength="66.73" lengthAdjust="spacingAndGlyphs">A549</text>
<text transform="translate(857.40,1413.30) rotate(-90)" x="-1.91" y="0" font-size="31.20" font-weight="bold" textLength="454.99" lengthAdjust="spacingAndGlyphs">Relative circ_0000735 expression</text>
<line x1="1542.80" y1="1027.10" x2="1542.80" y2="1322.00" stroke="#000" stroke-width="3.2" stroke-linecap="butt"/>
<line x1="1534.30" y1="1320.40" x2="1544.40" y2="1320.40" stroke="#000" stroke-width="3.04" stroke-linecap="butt"/>
<line x1="1534.30" y1="1247.18" x2="1544.40" y2="1247.18" stroke="#000" stroke-width="3.04" stroke-linecap="butt"/>
<line x1="1534.30" y1="1173.95" x2="1544.40" y2="1173.95" stroke="#000" stroke-width="3.04" stroke-linecap="butt"/>
<line x1="1534.30" y1="1100.72" x2="1544.40" y2="1100.72" stroke="#000" stroke-width="3.04" stroke-linecap="butt"/>
<line x1="1534.30" y1="1027.50" x2="1544.40" y2="1027.50" stroke="#000" stroke-width="3.04" stroke-linecap="butt"/>
<line x1="1535.10" y1="1320.40" x2="1983.20" y2="1320.40" stroke="#000" stroke-width="3.2" stroke-linecap="butt"/>
<line x1="1648.20" y1="1320.40" x2="1648.20" y2="1328.00" stroke="#000" stroke-width="3.2" stroke-linecap="butt"/>
<line x1="1876.50" y1="1320.40" x2="1876.50" y2="1328.00" stroke="#000" stroke-width="3.2" stroke-linecap="butt"/>
<text x="1518.42" y="1326.99" font-size="22" textLength="12.24" lengthAdjust="spacingAndGlyphs" stroke="#000" stroke-width="0.6">0</text>
<text x="1518.64" y="1253.76" font-size="22" textLength="12.24" lengthAdjust="spacingAndGlyphs" stroke="#000" stroke-width="0.6">1</text>
<text x="1518.67" y="1180.54" font-size="22" textLength="12.24" lengthAdjust="spacingAndGlyphs" stroke="#000" stroke-width="0.6">2</text>
<text x="1518.53" y="1107.31" font-size="22" textLength="12.24" lengthAdjust="spacingAndGlyphs" stroke="#000" stroke-width="0.6">3</text>
<text x="1518.21" y="1034.09" font-size="22" textLength="12.24" lengthAdjust="spacingAndGlyphs" stroke="#000" stroke-width="0.6">4</text>
<line x1="1575.55" y1="1246.60" x2="1575.55" y2="1242.00" stroke="#000" stroke-width="2.6" stroke-linecap="butt"/>
<line x1="1567.55" y1="1242.00" x2="1583.55" y2="1242.00" stroke="#000" stroke-width="2.6" stroke-linecap="butt"/>
<rect x="1559.60" y="1246.80" width="31.90" height="73.60" fill="#a2004e" stroke="#000" stroke-width="4.4"/>
<line x1="1624.25" y1="1141.80" x2="1624.25" y2="1125.30" stroke="#000" stroke-width="2.6" stroke-linecap="butt"/>
<line x1="1616.45" y1="1125.30" x2="1632.05" y2="1125.30" stroke="#000" stroke-width="2.6" stroke-linecap="butt"/>
<rect x="1608.40" y="1142.00" width="31.70" height="178.40" fill="#008000" stroke="#000" stroke-width="4.4"/>
<line x1="1672.80" y1="1246.60" x2="1672.80" y2="1241.10" stroke="#000" stroke-width="2.6" stroke-linecap="butt"/>
<line x1="1664.90" y1="1241.10" x2="1680.70" y2="1241.10" stroke="#000" stroke-width="2.6" stroke-linecap="butt"/>
<rect x="1656.70" y="1246.80" width="32.20" height="73.60" fill="#0000c8" stroke="#000" stroke-width="4.4"/>
<line x1="1722.15" y1="1290.10" x2="1722.15" y2="1285.50" stroke="#000" stroke-width="2.6" stroke-linecap="butt"/>
<line x1="1714.05" y1="1285.50" x2="1730.25" y2="1285.50" stroke="#000" stroke-width="2.6" stroke-linecap="butt"/>
<rect x="1705.70" y="1290.30" width="32.90" height="30.10" fill="#7a0a9c" stroke="#000" stroke-width="4.4"/>
<line x1="1802.95" y1="1246.80" x2="1802.95" y2="1240.00" stroke="#000" stroke-width="2.6" stroke-linecap="butt"/>
<line x1="1795.25" y1="1240.00" x2="1810.65" y2="1240.00" stroke="#000" stroke-width="2.6" stroke-linecap="butt"/>
<rect x="1787.10" y="1247.00" width="31.70" height="73.40" fill="#a2004e" stroke="#000" stroke-width="4.4"/>
<line x1="1852.00" y1="1120.60" x2="1852.00" y2="1107.00" stroke="#000" stroke-width="2.6" stroke-linecap="butt"/>
<line x1="1844.30" y1="1107.00" x2="1859.70" y2="1107.00" stroke="#000" stroke-width="2.6" stroke-linecap="butt"/>
<rect x="1835.60" y="1120.80" width="32.80" height="199.60" fill="#008000" stroke="#000" stroke-width="4.4"/>
<line x1="1901.35" y1="1246.80" x2="1901.35" y2="1242.60" stroke="#000" stroke-width="2.6" stroke-linecap="butt"/>
<line x1="1893.85" y1="1242.60" x2="1908.85" y2="1242.60" stroke="#000" stroke-width="2.6" stroke-linecap="butt"/>
<rect x="1885.50" y="1247.00" width="31.70" height="73.40" fill="#0000c8" stroke="#000" stroke-width="4.4"/>
<line x1="1949.85" y1="1299.30" x2="1949.85" y2="1292.90" stroke="#000" stroke-width="2.6" stroke-linecap="butt"/>
<line x1="1942.45" y1="1292.90" x2="1957.25" y2="1292.90" stroke="#000" stroke-width="2.6" stroke-linecap="butt"/>
<rect x="1934.00" y="1299.50" width="31.70" height="20.90" fill="#7a0a9c" stroke="#000" stroke-width="4.4"/>
<polyline points="1571.00,1120.60 1571.00,1108.50 1624.20,1108.50 1624.20,1121.60" fill="none" stroke="#000" stroke-width="3" stroke-linejoin="miter"/>
<polyline points="1673.40,1240.00 1673.40,1226.00 1725.00,1226.00 1725.00,1238.50" fill="none" stroke="#000" stroke-width="3" stroke-linejoin="miter"/>
<polyline points="1801.00,1104.80 1801.00,1092.00 1852.50,1092.00 1852.50,1107.00" fill="none" stroke="#000" stroke-width="3" stroke-linejoin="miter"/>
<polyline points="1902.20,1241.50 1902.20,1227.00 1953.60,1227.00 1953.60,1240.40" fill="none" stroke="#000" stroke-width="3" stroke-linejoin="miter"/>
<text x="1569.22" y="1108.86" font-size="28.08" fill="#000" textLength="55.63" lengthAdjust="spacingAndGlyphs" stroke-linejoin="round" stroke="#000" stroke-width="0.4">****</text>
<text x="1678.21" y="1229.49" font-size="29.04" fill="#000" textLength="42.45" lengthAdjust="spacingAndGlyphs" stroke-linejoin="round" stroke="#000" stroke-width="0.4">***</text>
<text x="1799.53" y="1093.69" font-size="29.04" fill="#000" textLength="54.61" lengthAdjust="spacingAndGlyphs" stroke-linejoin="round" stroke="#000" stroke-width="0.4">****</text>
<text x="1901.22" y="1229.89" font-size="29.04" fill="#000" textLength="55.74" lengthAdjust="spacingAndGlyphs" stroke-linejoin="round" stroke="#000" stroke-width="0.4">****</text>
<rect x="1554.40" y="983.00" width="30.40" height="14.20" fill="#a2004e" stroke="#000" stroke-width="5"/>
<rect x="1554.40" y="1010.80" width="30.40" height="13.90" fill="#008000" stroke="#000" stroke-width="5"/>
<rect x="1554.40" y="1036.90" width="30.40" height="15.30" fill="#0000c8" stroke="#000" stroke-width="5"/>
<rect x="1554.40" y="1061.70" width="30.40" height="14.20" fill="#7a0a9c" stroke="#000" stroke-width="5"/>
<text x="1603.46" y="997.20" font-size="25.44" font-weight="bold" fill="#000" textLength="62.19" lengthAdjust="spacingAndGlyphs">si-NC</text>
<text x="1603.47" y="1026.30" font-size="25.44" font-weight="bold" fill="#000" textLength="174.99" lengthAdjust="spacingAndGlyphs">si-circ_0000735</text>
<text x="1602.72" y="1052.40" font-size="22.53" font-weight="bold" fill="#000" textLength="107.57" lengthAdjust="spacingAndGlyphs">pCD5-ciR</text>
<text x="1603.38" y="1077.20" font-size="25.44" font-weight="bold" fill="#000" textLength="147.08" lengthAdjust="spacingAndGlyphs">circ_0000735</text>
<text x="1606.42" y="1357.40" font-size="29.80" font-weight="bold" fill="#000" textLength="82.93" lengthAdjust="spacingAndGlyphs">H1299</text>
<text x="1842.81" y="1357.80" font-size="29.07" font-weight="bold" fill="#000" textLength="66.22" lengthAdjust="spacingAndGlyphs">A549</text>
<text transform="translate(1503.10,1382.10) rotate(-90)" x="-1.88" y="0" font-size="32.00" font-weight="bold" textLength="423.83" lengthAdjust="spacingAndGlyphs">Relative miR-153-3p expression</text>
</svg></body></html>
